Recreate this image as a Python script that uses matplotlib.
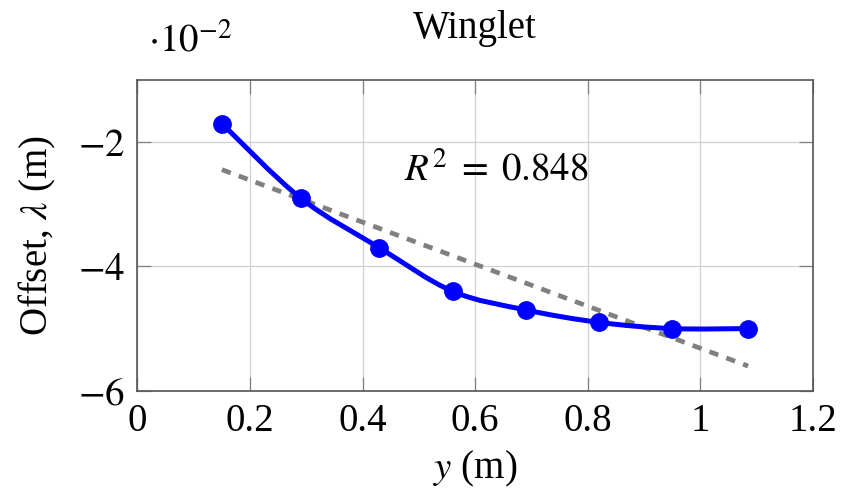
import matplotlib
matplotlib.use("Agg")
import matplotlib.pyplot as plt
import numpy as np
from matplotlib.path import Path
from matplotlib.patches import PathPatch

# offset of the winglet vs. spanwise position (values in units of 1e-2 m)
y_pos = [0.15, 0.29, 0.43, 0.56, 0.69, 0.82, 0.95, 1.085]
offset = [-1.7, -2.9, -3.7, -4.4, -4.7, -4.9, -5.0, -5.0]
x_ticks = [0, 0.2, 0.4, 0.6, 0.8, 1, 1.2]
x_ticklabels = ["0", "0.2", "0.4", "0.6", "0.8", "1", "1.2"]
y_ticks = [-6, -4, -2]
r2_label = r"$R^2\;=\;0.848$"

plt.rcParams["font.family"] = ["Liberation Serif", "DejaVu Serif"]
plt.rcParams["mathtext.fontset"] = "stix"

BLUE = "#0000ff"
GREY = "#808080"
FS = 28


def smooth_path(xs, ys, tension=0.5):
    """Cubic Bezier path through the points (pgfplots-like 'smooth')."""
    pts = np.column_stack([xs, ys])
    verts = [pts[0]]
    codes = [Path.MOVETO]
    n = len(pts)
    for i in range(n - 1):
        p0 = pts[i - 1] if i > 0 else pts[i]
        p1, p2 = pts[i], pts[i + 1]
        p3 = pts[i + 2] if i + 2 < n else pts[i + 1]
        c1 = p1 + (p2 - p0) * tension / 3
        c2 = p2 - (p3 - p1) * tension / 3
        verts += [c1, c2, p2]
        codes += [Path.CURVE4] * 3
    return Path(verts, codes)


fig = plt.figure(figsize=(8.42, 4.97), dpi=100)
ax = fig.add_axes([0.1633, 0.2139, 0.802, 0.625])

ax.grid(True, color="#d0d0d0", lw=0.9, zorder=0)
ax.set_axisbelow(True)

# linear fit
coef = np.polyfit(y_pos, offset, 1)
xf = np.array([y_pos[0], y_pos[-1]])
ax.plot(xf, np.polyval(coef, xf), color=GREY, lw=3.4, dashes=(2.0, 1.8),
        solid_capstyle="butt", dash_capstyle="butt", zorder=2)

ax.add_patch(PathPatch(smooth_path(y_pos, offset), facecolor="none",
                       edgecolor=BLUE, lw=3.6, zorder=3))
ax.plot(y_pos, offset, ls="none", marker="o", ms=12.5, color=BLUE, zorder=4)

ax.text(0.638, -2.47, r2_label, ha="center", va="center", fontsize=FS)

ax.set_xlim(0, 1.2)
ax.set_ylim(-6, -1)
ax.set_xticks(x_ticks)
ax.set_xticklabels(x_ticklabels)
ax.set_yticks(y_ticks)
ax.set_yticklabels([r"$-6$", r"$-4$", r"$-2$"])
ax.tick_params(direction="in", length=10, width=0.9, color="#808080",
               top=True, right=True, labelsize=FS, pad=9)
for s in ax.spines.values():
    s.set_color("#555555")
    s.set_linewidth(1.2)

ax.set_xlabel(r"$y$ (m)", fontsize=FS, labelpad=6)
ax.set_ylabel(r"Offset, $\lambda$ (m)", fontsize=FS, labelpad=14)
ax.set_title("Winglet", fontsize=FS, pad=30)
fig.text(0.176, 0.878, r"$\cdot 10^{-2}$", fontsize=FS, ha="left", va="bottom")

fig.savefig("out.png", dpi=100, facecolor="white")
